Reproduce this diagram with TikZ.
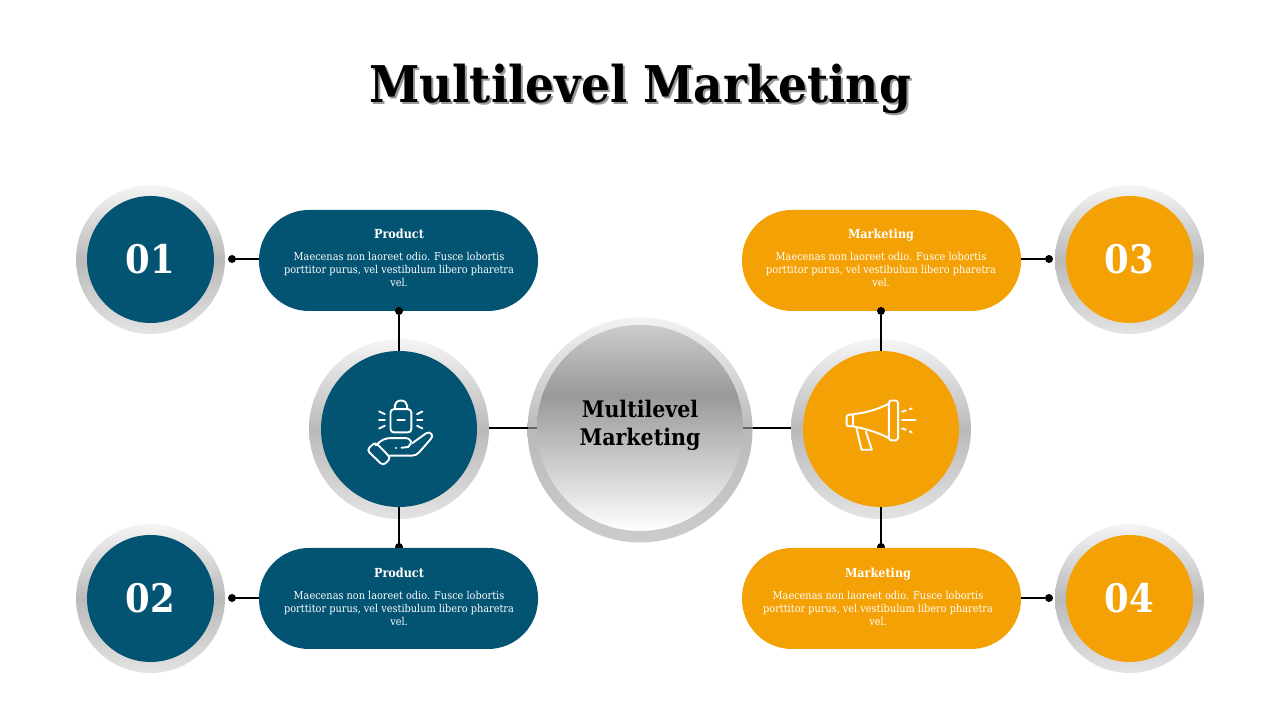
\documentclass[tikz,border=0pt]{standalone}
\usepackage{fontspec}
\setmainfont{DejaVu Serif Condensed}
\definecolor{deepblue}{HTML}{035373}
\definecolor{amber}{HTML}{F4A105}
\pgfdeclareverticalshading{hubshade}{100bp}{color(0bp)=(white); color(25bp)=(white); color(58bp)=(black!40); color(75bp)=(black!20); color(100bp)=(black!20)}
\tikzset{
    ring/.style={circle,inner sep=0pt,outer sep=0pt,top color=black!4,bottom color=black!11,middle color=black!27},
    disc/.style={circle,inner sep=0pt,outer sep=0pt,fill=#1},
    pill/.style={rounded corners=0.5cm,minimum width=2.79cm,minimum height=1.01cm,inner sep=0pt,outer sep=0pt,fill=#1},
    dot/.style={circle,inner sep=0pt,outer sep=0pt,minimum size=0.08cm,fill=black},
    link/.style={line width=0.55pt,black},
    numtext/.style={text=white,font=\fontsize{11.2}{11.2}\selectfont\bfseries},
    pilltext/.style={text=white,align=center,font=\fontsize{3.08}{3.7}\selectfont},
    icon/.style={white,line width=0.55pt,line cap=round,line join=round},
}
\begin{document}
\begin{tikzpicture}
    \useasboundingbox (0,0) rectangle (12.8,7.2);
    % title
    \node[text=black!40,font=\fontsize{14.4}{14.4}\selectfont\bfseries] (shadow) at (6.42,6.29) {Multilevel Marketing};
    \node[font=\fontsize{14.4}{14.4}\selectfont\bfseries] (title) at (6.4,6.31) {Multilevel Marketing};
    % left side
    \node[ring,minimum size=1.49cm] (ringa) at (1.505,4.605) {};
    \node[disc=deepblue,minimum size=1.27cm] (numa) at (1.505,4.605) {};
    \node[numtext] at (1.505,4.61) {01};
    \node[ring,minimum size=1.49cm] (ringb) at (1.505,1.215) {};
    \node[disc=deepblue,minimum size=1.27cm] (numb) at (1.505,1.215) {};
    \node[numtext] at (1.505,1.22) {02};
    \node[dot] (dotd) at (3.99,1.73) {};
    \node[pill=deepblue] (pilla) at (3.985,4.595) {};
    \node[pill=deepblue] (pillb) at (3.985,1.215) {};
    \node[pilltext] at (3.99,4.62) {{\bfseries\fontsize{3.55}{5}\selectfont Product}\\[2.45pt]Maecenas non laoreet odio. Fusce lobortis\\porttitor purus, vel vestibulum libero pharetra\\vel.};
    \node[pilltext] at (3.99,1.23) {{\bfseries\fontsize{3.55}{5}\selectfont Product}\\[2.45pt]Maecenas non laoreet odio. Fusce lobortis\\porttitor purus, vel vestibulum libero pharetra\\vel.};
    \node[dot] (dota) at (2.32,4.61) {};
    \node[dot] (dotb) at (2.32,1.22) {};
    \node[dot] (dotc) at (3.99,4.09) {};
    \node[ring,minimum size=1.8cm] (ringshop) at (3.99,2.91) {};
    \draw[link] (dota) -- (dota -| pilla.west);
    \draw[link] (dotb) -- (dotb -| pillb.west);
    \draw[link] (dotc) -- (ringshop.north);
    \draw[link] (pillb.north -| dotd) -- (ringshop.south);
    \node[disc=deepblue,minimum size=1.56cm] (shop) at (3.99,2.91) {};
    \draw[link] (ringshop.north) -- (shop.north);
    \draw[link] (ringshop.south) -- (shop.south);
    % right side
    \node[ring,minimum size=1.49cm] (ringc) at (11.295,4.605) {};
    \node[disc=amber,minimum size=1.27cm] (numc) at (11.295,4.605) {};
    \node[numtext] at (11.295,4.61) {03};
    \node[ring,minimum size=1.49cm] (ringd) at (11.295,1.215) {};
    \node[disc=amber,minimum size=1.27cm] (numd) at (11.295,1.215) {};
    \node[numtext] at (11.295,1.22) {04};
    \node[dot] (doth) at (8.81,1.73) {};
    \node[pill=amber] (pillc) at (8.815,4.595) {};
    \node[pill=amber] (pilld) at (8.815,1.215) {};
    \node[pilltext] at (8.81,4.62) {{\bfseries\fontsize{3.55}{5}\selectfont Marketing}\\[2.45pt]Maecenas non laoreet odio. Fusce lobortis\\porttitor purus, vel vestibulum libero pharetra\\vel.};
    \node[pilltext] at (8.78,1.23) {{\bfseries\fontsize{3.55}{5}\selectfont Marketing}\\[2.45pt]Maecenas non laoreet odio. Fusce lobortis\\porttitor purus, vel vestibulum libero pharetra\\vel.};
    \node[dot] (dote) at (10.49,4.61) {};
    \node[dot] (dotf) at (10.49,1.22) {};
    \node[dot] (dotg) at (8.81,4.09) {};
    \node[ring,minimum size=1.8cm] (ringhorn) at (8.81,2.91) {};
    \draw[link] (dote) -- (dote -| pillc.east);
    \draw[link] (dotf) -- (dotf -| pilld.east);
    \draw[link] (dotg) -- (ringhorn.north);
    \draw[link] (pilld.north -| doth) -- (ringhorn.south);
    \node[disc=amber,minimum size=1.56cm] (horn) at (8.81,2.91) {};
    \draw[link] (ringhorn.north) -- (horn.north);
    \draw[link] (ringhorn.south) -- (horn.south);
    % centre
    \node[circle,inner sep=0pt,outer sep=0pt,minimum size=2.25cm,top color=black!5,bottom color=black!20,middle color=black!27] (ringhub) at (6.4,2.9) {};
    \node[circle,inner sep=0pt,outer sep=0pt,minimum size=2.06cm,shading=hubshade] (hub) at (6.4,2.92) {};
    \node[align=center,font=\fontsize{6.5}{7.9}\selectfont\bfseries] (hubtext) at (6.4,2.95) {Multilevel\\Marketing};
    \draw[link] (hub.west -| ringshop.east) -- (hub.west -| ringhub.west);
    \draw[link,black!60] (hub.west -| ringhub.west) -- (hub.west);
    \draw[link] (hub.east -| ringhorn.west) -- (hub.east -| ringhub.east);
    \draw[link,black!60] (hub.east -| ringhub.east) -- (hub.east);
    % hand with bag
    \begin{scope}[shift={(3,3.9)},x=0.00333cm,y=-0.00333cm]
        \draw[icon,rounded corners=1pt] (272,238) rectangle (335,308);
        \draw[icon] (285,238) -- (285,228) arc[start angle=180,end angle=360,x radius=18.5,y radius=16] -- (322,238);
        \draw[icon] (293,272) -- (315,272);
        \draw[icon] (238,245) -- (255,253);
        \draw[icon] (238,270) -- (255,270);
        \draw[icon] (238,296) -- (255,288);
        \draw[icon] (352,253) -- (368,245);
        \draw[icon] (352,270) -- (368,270);
        \draw[icon] (352,288) -- (368,296);
        \draw[icon,rounded corners=1pt] (201,361) -- (226,337) -- (273,385) -- (250,408) -- cycle;
        \draw[icon] (228,347) .. controls (245,330) and (255,325) .. (275,325) -- (315,325) .. controls (335,325) and (340,340) .. (325,352) -- (305,354);
        \draw[icon] (288,354) -- (289,354);
        \draw[icon] (338,340) -- (380,310) .. controls (392,303) and (404,318) .. (393,328) -- (358,368) .. controls (352,375) and (345,378) .. (335,378) -- (270,378);
    \end{scope}
    % megaphone
    \begin{scope}[shift={(7.8,3.9)},x=0.00333cm,y=-0.00333cm]
        \draw[icon,rounded corners=0.8pt] (327,212) rectangle (355,332);
        \draw[icon] (327,222) .. controls (295,238) and (255,250) .. (220,253);
        \draw[icon] (327,325) .. controls (295,308) and (255,296) .. (220,290);
        \draw[icon,rounded corners=0.6pt] (220,253) -- (200,256) -- (200,289) -- (220,290) -- cycle;
        \draw[icon] (230,296) -- (245,360) -- (276,360) -- (258,305);
        \draw[icon] (367,246) -- (378,242);
        \draw[icon] (390,238) -- (396,236);
        \draw[icon] (367,271) -- (407,271);
        \draw[icon] (367,296) -- (378,300);
        \draw[icon] (390,305) -- (396,308);
    \end{scope}
\end{tikzpicture}
\end{document}
